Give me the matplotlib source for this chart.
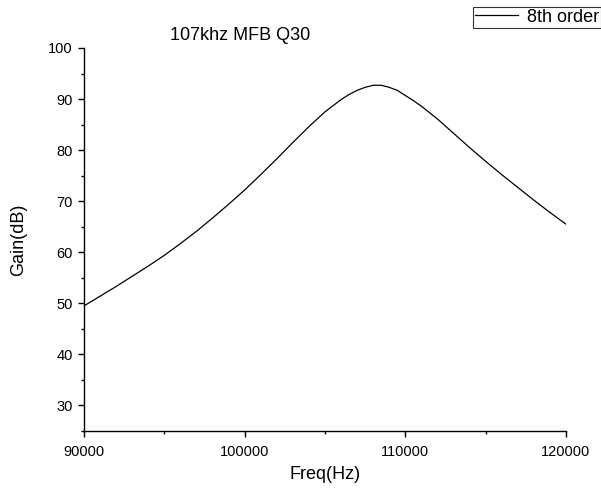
import numpy as np
from matplotlib import pyplot as plt
from matplotlib.ticker import MultipleLocator

plt.rcParams['font.family'] = ['Liberation Sans', 'DejaVu Sans']

# values
freq = [90000, 91000, 92000, 93000, 94000, 95000, 96000, 97000, 98000, 99000,
        100000, 101000, 102000, 103000, 104000, 105000, 106000, 106500, 107000,
        107500, 108000, 108500, 109000, 109500, 110000, 110500, 111000, 112000,
        113000, 114000, 115000, 116000, 117000, 118000, 119000, 120000]
gain = [49.5, 51.4, 53.3, 55.3, 57.3, 59.4, 61.7, 64.1, 66.7, 69.4,
        72.2, 75.2, 78.3, 81.5, 84.6, 87.5, 89.9, 90.9, 91.7,
        92.3, 92.7, 92.7, 92.3, 91.7, 90.7, 89.7, 88.6, 86.1,
        83.3, 80.5, 77.8, 75.2, 72.7, 70.2, 67.8, 65.5]

fig = plt.figure(figsize=(6.01, 4.95), dpi=100)
ax = fig.add_axes([84/601, 1-431/495, (566-84)/601, (431-48)/495])

line, = ax.plot(freq, gain, color='black', lw=0.9, label='8th order')

ax.set_xlim(90000, 120000)
ax.set_ylim(25, 100)
ax.set_xticks([90000, 100000, 110000, 120000])
ax.set_yticks([30, 40, 50, 60, 70, 80, 90, 100])
ax.xaxis.set_minor_locator(MultipleLocator(5000))
ax.yaxis.set_minor_locator(MultipleLocator(5))

for s in ['top', 'right']:
    ax.spines[s].set_visible(False)
for s in ['left', 'bottom']:
    ax.spines[s].set_linewidth(1.0)

ax.tick_params(which='major', direction='out', length=4, width=1.0,
               labelsize=10.5, pad=4)
ax.tick_params(axis='x', which='major', pad=6)
ax.tick_params(which='minor', direction='out', length=2.4, width=1.0)

ax.set_xlabel('Freq(Hz)', fontsize=13, labelpad=5)
ax.set_ylabel('Gain(dB)', fontsize=13, labelpad=15)

fig.text(240/601, 1-35/495, '107khz MFB Q30', fontsize=13,
         ha='center', va='center')

leg = fig.legend(handles=[line], loc='upper right',
                 bbox_to_anchor=(1.0, 1-7/495), fontsize=13,
                 frameon=True, fancybox=False, shadow=False,
                 handlelength=2.4, handletextpad=0.5, borderpad=0.1,
                 borderaxespad=0)
leg.get_frame().set_edgecolor('black')
leg.get_frame().set_linewidth(0.8)

fig.savefig('out.png', dpi=100)
